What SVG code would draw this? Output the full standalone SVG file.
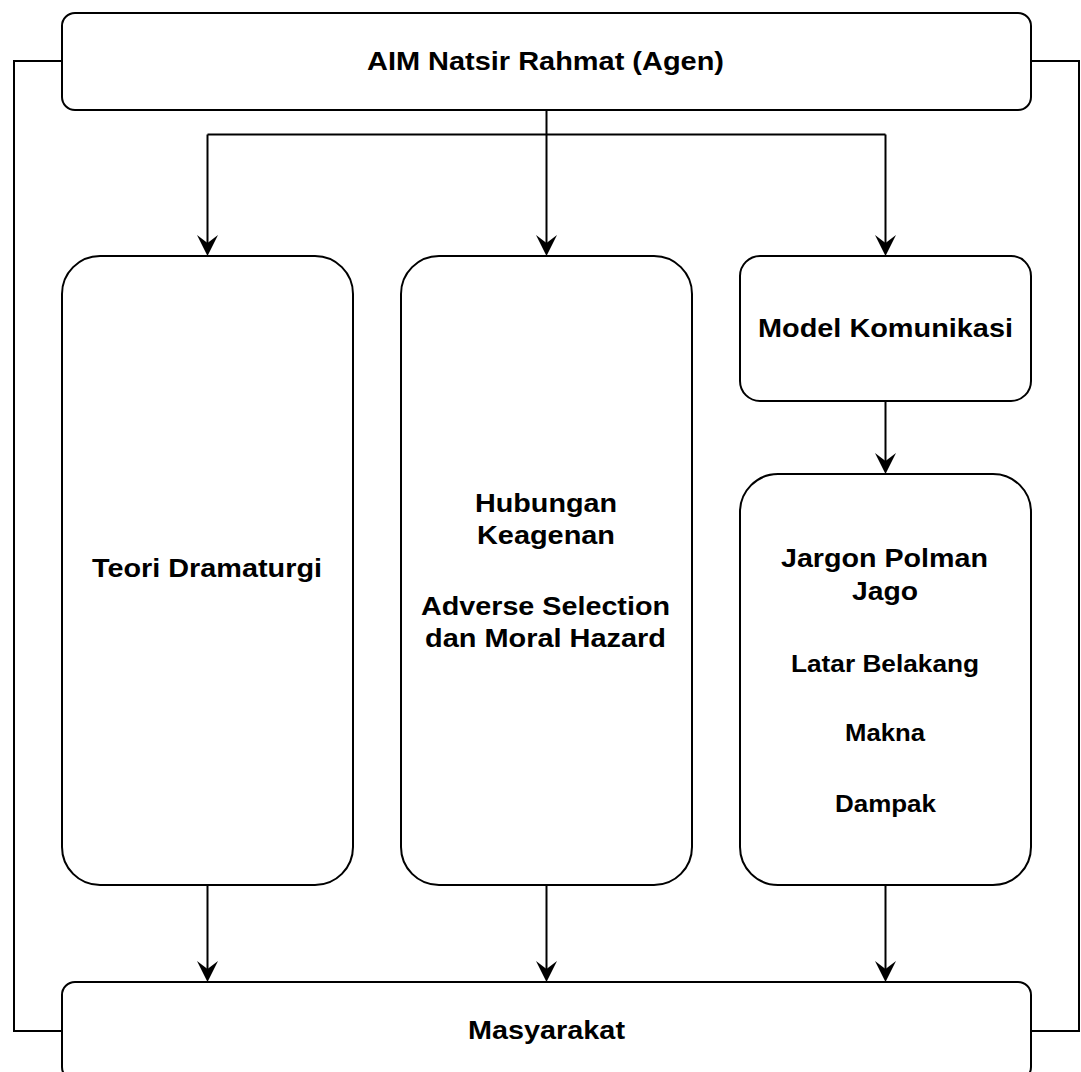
<svg xmlns="http://www.w3.org/2000/svg" width="1081" height="1072" viewBox="0 0 1081 1072">
<style>
.box{fill:#fff;stroke:#000;stroke-width:2}
.ln{fill:none;stroke:#000;stroke-width:2}
.arr{marker-end:url(#ah)}
.t{font-family:"Liberation Sans",Arial,sans-serif;font-weight:bold;font-size:26.5px;fill:#000;text-anchor:middle}
.s{font-size:23.5px}
</style>
<defs>
<marker id="ah" markerUnits="userSpaceOnUse" markerWidth="24" markerHeight="24" viewBox="-9 -12 24 24" refX="0" refY="0" orient="auto">
<path d="M13,0 L-8,-10.5 L0,0 L-8,10.5 Z" fill="#000"/>
</marker>
</defs>
<rect width="1081" height="1072" fill="#fff"/>
<g id="connectors">
<path class="ln" d="M62,61 H14 V1031 H62"/>
<path class="ln" d="M1031,61 H1079 V1031 H1031"/>
<path class="ln" d="M546.5,110 V134.5"/>
<path class="ln arr" d="M207.5,134.5 V243"/>
<path class="ln" d="M207.5,134.5 H885.5"/>
<path class="ln arr" d="M546.5,134.5 V243"/>
<path class="ln arr" d="M885.5,134.5 V243"/>
<path class="ln arr" d="M885.5,401 V461"/>
<path class="ln arr" d="M207.5,885 V969"/>
<path class="ln arr" d="M546.5,885 V969"/>
<path class="ln arr" d="M885.5,885 V969"/>
</g>
<g id="agen">
<rect class="box" x="62" y="13" width="969" height="97" rx="13"/>
<text class="t" x="545.5" y="69.5" textLength="357" lengthAdjust="spacingAndGlyphs">AIM Natsir Rahmat (Agen)</text>
</g>
<g id="dramaturgi">
<rect class="box" x="62" y="256" width="291" height="629" rx="38"/>
<text class="t" x="207" y="577" textLength="230" lengthAdjust="spacingAndGlyphs">Teori Dramaturgi</text>
</g>
<g id="keagenan">
<rect class="box" x="401" y="256" width="291" height="629" rx="38"/>
<text class="t" x="546" y="512" textLength="142" lengthAdjust="spacingAndGlyphs">Hubungan</text>
<text class="t" x="546" y="544" textLength="138" lengthAdjust="spacingAndGlyphs">Keagenan</text>
<text class="t" x="545.5" y="615" textLength="249" lengthAdjust="spacingAndGlyphs">Adverse Selection</text>
<text class="t" x="545.5" y="647" textLength="241" lengthAdjust="spacingAndGlyphs">dan Moral Hazard</text>
</g>
<g id="komunikasi">
<rect class="box" x="740" y="256" width="291" height="145" rx="20"/>
<text class="t" x="885.5" y="337" textLength="255" lengthAdjust="spacingAndGlyphs">Model Komunikasi</text>
</g>
<g id="jargon">
<rect class="box" x="740" y="474" width="291" height="411" rx="38"/>
<text class="t" x="884.5" y="567" textLength="207" lengthAdjust="spacingAndGlyphs">Jargon Polman</text>
<text class="t" x="885" y="600" textLength="66" lengthAdjust="spacingAndGlyphs">Jago</text>
<text class="t s" x="885" y="672" textLength="188" lengthAdjust="spacingAndGlyphs">Latar Belakang</text>
<text class="t s" x="885" y="741" textLength="80" lengthAdjust="spacingAndGlyphs">Makna</text>
<text class="t s" x="885.5" y="812" textLength="101" lengthAdjust="spacingAndGlyphs">Dampak</text>
</g>
<g id="masyarakat">
<rect class="box" x="62" y="982" width="969" height="98" rx="13"/>
<text class="t" x="546.5" y="1039" textLength="157" lengthAdjust="spacingAndGlyphs">Masyarakat</text>
</g>
</svg>
